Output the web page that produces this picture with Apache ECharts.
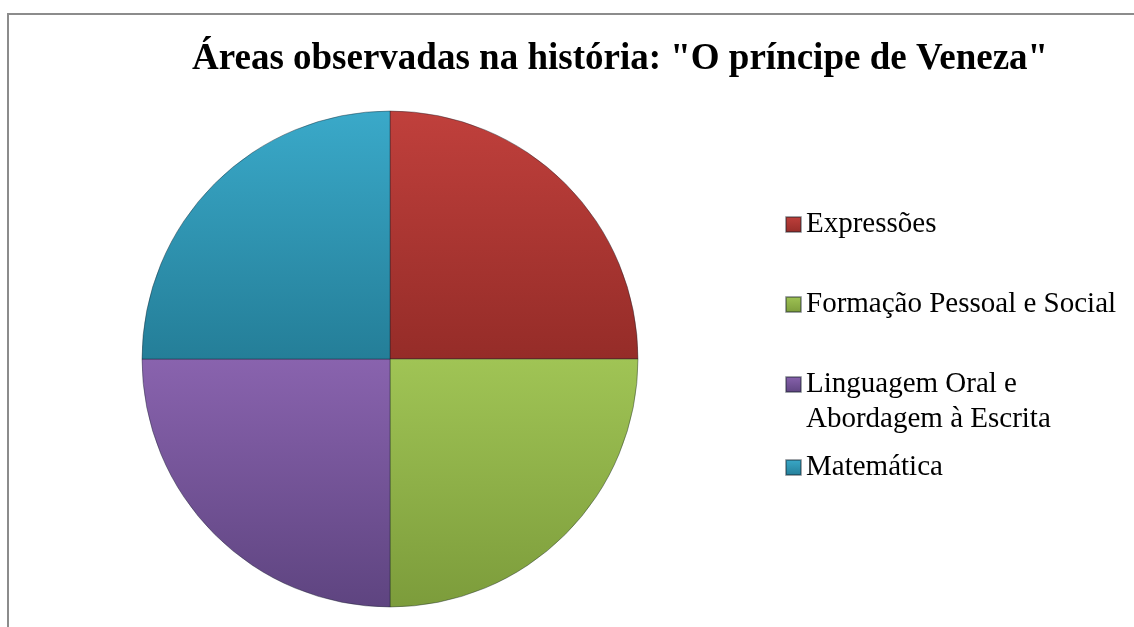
<!DOCTYPE html>
<html>
<head>
<meta charset="utf-8">
<script src="https://cdn.jsdelivr.net/npm/echarts@6/dist/echarts.min.js"></script>
<style>
html,body{margin:0;padding:0;background:#fff;}
#chart{width:1134px;height:627px;}
</style>
</head>
<body>
<div id="chart"></div>
<script>
const titleText = 'Áreas observadas na história: "O príncipe de Veneza"';
const categories = ['Expressões', 'Formação Pessoal e Social', 'Linguagem Oral e Abordagem à Escrita', 'Matemática'];
const values = [1, 1, 1, 1];
const legendLabels = ['Expressões', 'Formação Pessoal e Social', 'Linguagem Oral e', 'Matemática'];
const legendSecondLine = 'Abordagem à Escrita';
const colorTop = ['#c0403c', '#a0c455', '#8963ae', '#3aa9c9'];
const colorBottom = ['#952c28', '#7c9c3b', '#5e4480', '#247e98'];
const legendTops = [205, 285, 365, 448];

const chart = echarts.init(document.getElementById('chart'));

const legends = categories.map((c, i) => ({
  data: [c],
  left: 780,
  top: legendTops[i],
  orient: 'vertical',
  itemWidth: 15,
  itemHeight: 15,
  icon: 'rect',
  selectedMode: false,
  formatter: () => legendLabels[i],
  textStyle: { fontFamily: 'Liberation Serif', fontSize: 29, color: '#000' }
}));

chart.setOption({
  animation: false,
  title: {
    text: titleText,
    left: 187,
    top: 36,
    textStyle: { fontFamily: 'Liberation Serif', fontWeight: 'bold', fontSize: 37, color: '#000' }
  },
  legend: legends,
  graphic: [
    { type: 'rect', shape: { x: 8, y: 14, width: 1140, height: 700 }, style: { fill: 'none', stroke: '#8c8c8c', lineWidth: 2 }, silent: true },
    { type: 'text', left: 806, top: 405, style: { text: legendSecondLine, fontFamily: 'Liberation Serif', fontSize: 29, fill: '#000' }, silent: true }
  ],
  series: [{
    type: 'pie',
    center: [390, 359],
    radius: [0, 248],
    startAngle: 90,
    clockwise: true,
    label: { show: false },
    labelLine: { show: false },
    emphasis: { disabled: true },
    itemStyle: { borderColor: 'rgba(20,30,40,0.4)', borderWidth: 1 },
    data: categories.map((c, i) => ({
      name: c,
      value: values[i],
      itemStyle: {
        color: {
          type: 'linear', x: 0, y: 0, x2: 0, y2: 1,
          colorStops: [{ offset: 0, color: colorTop[i] }, { offset: 1, color: colorBottom[i] }]
        }
      }
    }))
  }]
});
</script>
</body>
</html>
